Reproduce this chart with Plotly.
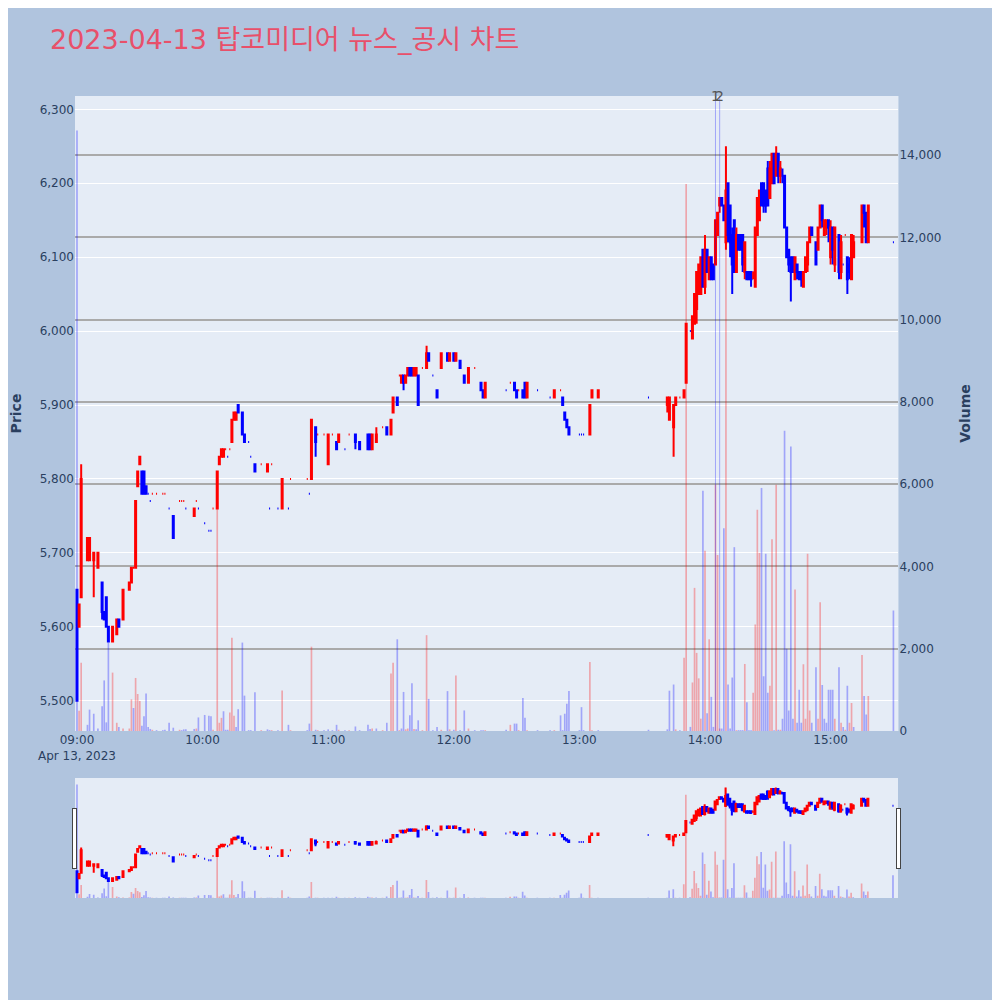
import pandas as pd
import plotly.graph_objects as go
from plotly.subplots import make_subplots

day = "2023-04-13"
stock = "탑코미디어"

# minute candles (only minutes with trades)
times = [
    "09:00", "09:01", "09:02", "09:05", "09:06", "09:08", "09:10", "09:12", "09:13", "09:14",
    "09:15", "09:17", "09:19", "09:20", "09:22", "09:25", "09:26", "09:27", "09:28", "09:29",
    "09:30", "09:31", "09:32", "09:33", "09:34", "09:35", "09:36", "09:38", "09:41", "09:42",
    "09:44", "09:46", "09:49", "09:50", "09:51", "09:52", "09:56", "09:57", "09:58", "10:01",
    "10:03", "10:04", "10:05", "10:07", "10:08", "10:09", "10:10", "10:11", "10:12", "10:13",
    "10:14", "10:15", "10:16", "10:17", "10:19", "10:20", "10:22", "10:23", "10:25", "10:28",
    "10:31", "10:32", "10:33", "10:36", "10:38", "10:41", "10:42", "10:50", "10:51", "10:52",
    "10:54", "10:55", "10:58", "11:00", "11:02", "11:04", "11:05", "11:08", "11:10", "11:13",
    "11:15", "11:19", "11:20", "11:21", "11:23", "11:26", "11:28", "11:30", "11:31", "11:33",
    "11:34", "11:35", "11:36", "11:37", "11:38", "11:39", "11:40", "11:41", "11:42", "11:43",
    "11:45", "11:47", "11:48", "11:50", "11:52", "11:54", "11:57", "11:58", "12:00", "12:01",
    "12:03", "12:05", "12:07", "12:10", "12:13", "12:14", "12:15", "12:25", "12:27", "12:29",
    "12:30", "12:31", "12:33", "12:34", "12:35", "12:40", "12:46", "12:48", "12:51", "12:52",
    "12:53", "12:54", "12:55", "13:00", "13:01", "13:02", "13:05", "13:06", "13:09", "13:33",
    "13:42", "13:43", "13:45", "13:46", "13:48", "13:50", "13:51", "13:53", "13:54", "13:55",
    "13:56", "13:57", "13:58", "13:59", "14:00", "14:01", "14:02", "14:03", "14:04", "14:05",
    "14:06", "14:07", "14:08", "14:09", "14:10", "14:11", "14:12", "14:13", "14:14", "14:15",
    "14:16", "14:17", "14:18", "14:19", "14:20", "14:21", "14:22", "14:23", "14:24", "14:25",
    "14:26", "14:27", "14:28", "14:29", "14:30", "14:31", "14:32", "14:33", "14:34", "14:35",
    "14:36", "14:37", "14:38", "14:39", "14:40", "14:41", "14:42", "14:43", "14:44", "14:45",
    "14:46", "14:47", "14:48", "14:49", "14:50", "14:51", "14:53", "14:54", "14:55", "14:56",
    "14:57", "14:58", "14:59", "15:00", "15:01", "15:02", "15:04", "15:05", "15:06", "15:07",
    "15:08", "15:09", "15:10", "15:11", "15:15", "15:16", "15:17", "15:18", "15:30",
]
opens = [
    5650, 5600, 5640, 5690, 5690, 5690, 5680, 5660, 5620, 5640,
    5600, 5580, 5590, 5610, 5610, 5650, 5660, 5680, 5680, 5790,
    5820, 5810, 5810, 5790, 5780, 5770, 5780, 5780, 5780, 5780,
    5760, 5750, 5770, 5770, 5770, 5760, 5750, 5770, 5760, 5740,
    5730, 5730, 5760, 5760, 5820, 5830, 5830, 5840, 5830, 5840,
    5850, 5880, 5880, 5900, 5890, 5860, 5850, 5830, 5820, 5820,
    5810, 5760, 5820, 5760, 5760, 5760, 5800, 5800, 5780, 5800,
    5870, 5860, 5860, 5820, 5860, 5850, 5850, 5840, 5860, 5860,
    5850, 5860, 5860, 5840, 5850, 5870, 5870, 5860, 5890, 5910,
    5940, 5930, 5940, 5930, 5940, 5950, 5950, 5940, 5940, 5940,
    5950, 5950, 5970, 5940, 5920, 5950, 5970, 5960, 5970, 5960,
    5960, 5940, 5930, 5950, 5930, 5920, 5910, 5920, 5930, 5930,
    5920, 5920, 5920, 5930, 5910, 5920, 5910, 5910, 5920, 5910,
    5890, 5880, 5870, 5860, 5860, 5860, 5860, 5910, 5910, 5910,
    5900, 5880, 5870, 5900, 5910, 5910, 5930, 6000, 5990, 6010,
    6030, 6050, 6050, 6110, 6060, 6110, 6070, 6100, 6090, 6090,
    6130, 6170, 6180, 6170, 6120, 6200, 6170, 6130, 6150, 6080,
    6130, 6130, 6130, 6080, 6080, 6080, 6080, 6080, 6060, 6130,
    6150, 6200, 6200, 6190, 6220, 6180, 6200, 6240, 6210, 6240,
    6210, 6210, 6210, 6140, 6110, 6100, 6100, 6070, 6090, 6080,
    6080, 6060, 6080, 6090, 6120, 6140, 6120, 6110, 6140, 6170,
    6130, 6140, 6150, 6100, 6140, 6090, 6130, 6080, 6090, 6130,
    6100, 6090, 6070, 6100, 6120, 6170, 6160, 6120, 6120,
]
highs = [
    5650, 5630, 5820, 5720, 5720, 5700, 5700, 5660, 5620, 5640,
    5600, 5600, 5610, 5610, 5650, 5660, 5680, 5680, 5770, 5810,
    5830, 5810, 5810, 5790, 5780, 5770, 5780, 5780, 5780, 5780,
    5760, 5750, 5770, 5770, 5770, 5760, 5760, 5770, 5760, 5740,
    5730, 5730, 5760, 5810, 5830, 5840, 5840, 5840, 5830, 5840,
    5880, 5890, 5890, 5900, 5890, 5860, 5850, 5830, 5820, 5820,
    5820, 5760, 5820, 5760, 5800, 5760, 5800, 5800, 5780, 5880,
    5870, 5860, 5860, 5860, 5860, 5850, 5860, 5840, 5860, 5860,
    5850, 5860, 5860, 5860, 5870, 5870, 5870, 5880, 5910, 5910,
    5940, 5940, 5940, 5940, 5950, 5950, 5950, 5950, 5950, 5940,
    5950, 5980, 5970, 5940, 5920, 5970, 5970, 5970, 5970, 5970,
    5960, 5940, 5950, 5950, 5930, 5920, 5930, 5920, 5930, 5930,
    5920, 5920, 5920, 5930, 5930, 5920, 5910, 5920, 5920, 5910,
    5890, 5880, 5870, 5860, 5860, 5860, 5900, 5920, 5920, 5910,
    5910, 5910, 5900, 5910, 5910, 5920, 6010, 6000, 6020, 6050,
    6080, 6090, 6100, 6110, 6130, 6110, 6100, 6100, 6090, 6150,
    6160, 6180, 6180, 6170, 6250, 6200, 6170, 6140, 6150, 6140,
    6130, 6130, 6130, 6120, 6080, 6080, 6080, 6080, 6140, 6180,
    6190, 6200, 6200, 6190, 6230, 6230, 6240, 6240, 6250, 6240,
    6230, 6220, 6210, 6140, 6110, 6100, 6100, 6100, 6090, 6080,
    6080, 6080, 6100, 6120, 6140, 6140, 6120, 6140, 6170, 6170,
    6150, 6150, 6150, 6150, 6140, 6140, 6130, 6130, 6090, 6130,
    6100, 6100, 6130, 6130, 6170, 6170, 6160, 6170, 6120,
]
lows = [
    5500, 5600, 5640, 5690, 5690, 5640, 5680, 5610, 5610, 5600,
    5580, 5580, 5590, 5600, 5610, 5650, 5660, 5680, 5680, 5790,
    5820, 5780, 5780, 5780, 5780, 5770, 5780, 5780, 5780, 5780,
    5760, 5720, 5770, 5770, 5770, 5760, 5750, 5770, 5760, 5740,
    5730, 5730, 5760, 5760, 5820, 5830, 5830, 5840, 5830, 5840,
    5850, 5880, 5880, 5890, 5860, 5850, 5850, 5830, 5810, 5820,
    5810, 5760, 5820, 5760, 5760, 5760, 5800, 5800, 5780, 5800,
    5830, 5860, 5860, 5820, 5860, 5840, 5850, 5840, 5860, 5840,
    5840, 5840, 5840, 5840, 5850, 5870, 5860, 5860, 5890, 5900,
    5940, 5930, 5920, 5930, 5940, 5940, 5940, 5940, 5940, 5900,
    5950, 5950, 5960, 5940, 5910, 5950, 5960, 5960, 5960, 5960,
    5950, 5930, 5930, 5950, 5920, 5910, 5910, 5920, 5930, 5920,
    5910, 5920, 5910, 5910, 5910, 5920, 5910, 5910, 5920, 5900,
    5880, 5870, 5860, 5860, 5860, 5860, 5860, 5910, 5910, 5910,
    5890, 5880, 5830, 5900, 5910, 5910, 5930, 6000, 5990, 6010,
    6010, 6050, 6050, 6060, 6050, 6080, 6070, 6070, 6070, 6090,
    6130, 6160, 6170, 6150, 6110, 6120, 6100, 6050, 6080, 6080,
    6110, 6110, 6080, 6070, 6070, 6070, 6060, 6070, 6060, 6130,
    6150, 6170, 6160, 6160, 6170, 6180, 6200, 6200, 6210, 6200,
    6200, 6200, 6140, 6100, 6080, 6040, 6080, 6070, 6070, 6070,
    6060, 6060, 6080, 6080, 6120, 6130, 6090, 6110, 6140, 6140,
    6130, 6130, 6120, 6090, 6090, 6080, 6070, 6070, 6090, 6130,
    6050, 6070, 6070, 6100, 6120, 6140, 6120, 6120, 6120,
]
closes = [
    5500, 5630, 5800, 5720, 5720, 5700, 5700, 5620, 5610, 5600,
    5580, 5600, 5610, 5600, 5650, 5660, 5680, 5680, 5770, 5810,
    5830, 5780, 5780, 5780, 5780, 5770, 5780, 5780, 5780, 5780,
    5760, 5720, 5770, 5770, 5770, 5760, 5760, 5770, 5760, 5740,
    5730, 5730, 5760, 5810, 5830, 5840, 5840, 5840, 5830, 5840,
    5880, 5890, 5890, 5890, 5860, 5850, 5850, 5830, 5810, 5820,
    5820, 5760, 5820, 5760, 5800, 5760, 5800, 5800, 5780, 5880,
    5850, 5860, 5860, 5860, 5860, 5840, 5860, 5840, 5860, 5850,
    5840, 5840, 5840, 5860, 5860, 5870, 5860, 5880, 5910, 5900,
    5940, 5940, 5930, 5940, 5950, 5940, 5940, 5950, 5950, 5900,
    5950, 5970, 5960, 5940, 5910, 5970, 5960, 5970, 5960, 5970,
    5950, 5930, 5950, 5950, 5920, 5910, 5930, 5920, 5930, 5920,
    5910, 5920, 5910, 5910, 5930, 5920, 5910, 5920, 5920, 5900,
    5880, 5870, 5860, 5860, 5860, 5860, 5900, 5920, 5920, 5910,
    5910, 5910, 5900, 5910, 5910, 5920, 6010, 6000, 6020, 6050,
    6080, 6090, 6100, 6060, 6110, 6080, 6100, 6070, 6070, 6150,
    6160, 6180, 6170, 6150, 6190, 6130, 6120, 6090, 6080, 6130,
    6110, 6110, 6090, 6120, 6070, 6070, 6070, 6080, 6140, 6180,
    6190, 6170, 6170, 6170, 6170, 6220, 6240, 6200, 6240, 6210,
    6220, 6210, 6140, 6100, 6090, 6080, 6080, 6100, 6080, 6070,
    6070, 6080, 6100, 6120, 6140, 6130, 6090, 6140, 6170, 6150,
    6150, 6150, 6140, 6140, 6110, 6140, 6080, 6120, 6090, 6130,
    6070, 6080, 6130, 6120, 6170, 6160, 6120, 6170, 6120,
]
volumes = [
    14600, 490, 1660, 150, 520, 420, 60, 600, 1230, 210,
    2150, 1420, 200, 100, 60, 60, 770, 560, 1290, 900,
    730, 130, 360, 910, 100, 50, 30, 20, 20, 30,
    200, 80, 30, 20, 40, 40, 50, 60, 330, 390,
    370, 360, 30, 5420, 200, 320, 480, 30, 30, 450,
    2270, 370, 100, 530, 2150, 860, 20, 20, 940, 20,
    40, 20, 20, 20, 985, 150, 20, 20, 180, 2050,
    30, 20, 20, 40, 20, 150, 30, 20, 20, 110,
    20, 150, 50, 60, 60, 20, 200, 1400, 1660, 2230,
    20, 60, 950, 40, 60, 380, 1160, 50, 40, 260,
    20, 2330, 780, 20, 100, 30, 970, 40, 30, 1350,
    20, 500, 60, 20, 20, 20, 20, 30, 150, 180,
    180, 20, 800, 320, 20, 20, 20, 20, 380, 20,
    420, 660, 970, 20, 580, 20, 1680, 20, 20, 30,
    40, 980, 1130, 40, 20, 1780, 13300, 100, 1180, 3480,
    1900, 1280, 300, 5840, 4380, 430, 2230, 830, 100, 5990,
    4280, 60, 60, 4930, 14200, 1130, 60, 1300, 4470, 20,
    20, 20, 20, 1630, 700, 20, 20, 930, 2590, 5380,
    4330, 5910, 1330, 4310, 930, 1100, 4660, 20, 5990, 30,
    30, 300, 7300, 2000, 500, 6920, 300, 3440, 200, 1000,
    200, 1620, 300, 4310, 500, 200, 1550, 300, 3130, 1120,
    300, 200, 1000, 1000, 1000, 300, 1550, 200, 100, 30,
    1100, 200, 680, 100, 1850, 850, 400, 850, 2930,
]

# news / disclosure markers
news_times = ["14:05", "14:07"]
news_labels = ["1", "2"]

x = pd.to_datetime([f"{day} {t}" for t in times])

# volume colour: red when the close is above the previous close
vol_colors = []
prev = None
for c in closes:
    if prev is not None and c > prev:
        vol_colors.append("rgba(255,0,0,0.3)")
    else:
        vol_colors.append("rgba(0,0,255,0.3)")
    prev = c

fig = make_subplots(specs=[[{"secondary_y": True}]])

fig.add_trace(
    go.Candlestick(
        x=x, open=opens, high=highs, low=lows, close=closes,
        increasing_line_color="red", increasing_fillcolor="red",
        decreasing_line_color="blue", decreasing_fillcolor="blue",
        name="Price", showlegend=False,
    ),
    secondary_y=False,
)
fig.add_trace(
    go.Bar(x=x, y=volumes, marker_color=vol_colors, marker_line_width=0,
           name="Volume", showlegend=False),
    secondary_y=True,
)

for t, label in zip(news_times, news_labels):
    xt = f"{day} {t}"
    fig.add_shape(type="line", xref="x", yref="paper", x0=xt, x1=xt, y0=0, y1=1,
                  line=dict(color="rgba(0,0,255,0.3)", width=1))
    fig.add_annotation(x=xt, y=1, xref="x", yref="paper", text=label,
                       showarrow=False, yanchor="middle",
                       font=dict(size=14, color="#555"))

x_range = [f"{day} 08:59:03", f"{day} 15:32:24"]

fig.update_layout(
    width=1000, height=1000,
    font=dict(family="DejaVu Sans"),
    paper_bgcolor="#B0C4DE",
    plot_bgcolor="#E5ECF6",
    margin=dict(l=67, r=57, t=88, b=110),
    title=dict(text=f"{day} {stock} 뉴스_공시 차트", x=0.042, y=0.968,
               yanchor="middle",
               font=dict(family="DejaVu Sans, Noto Sans CJK KR", size=27,
                         color="#E8506A")),
    showlegend=False,
    bargap=0.2,
)
fig.update_xaxes(
    range=x_range,
    rangeslider=dict(visible=True, thickness=0.15, bgcolor="#E5ECF6",
                     range=x_range),
)
fig.update_yaxes(title_text="<b>Price</b>", range=[5459, 6318], tickformat=",",
                 dtick=100, automargin=False, title_standoff=20,
                 secondary_y=False)
fig.update_yaxes(title_text="<b>Volume</b>", range=[0, 15440], tickformat=",",
                 dtick=2000, showgrid=True, gridcolor="#AAAAAA", gridwidth=1.5,
                 zeroline=False, automargin=False, title_standoff=19,
                 secondary_y=True)

fig.write_html("out.html")
